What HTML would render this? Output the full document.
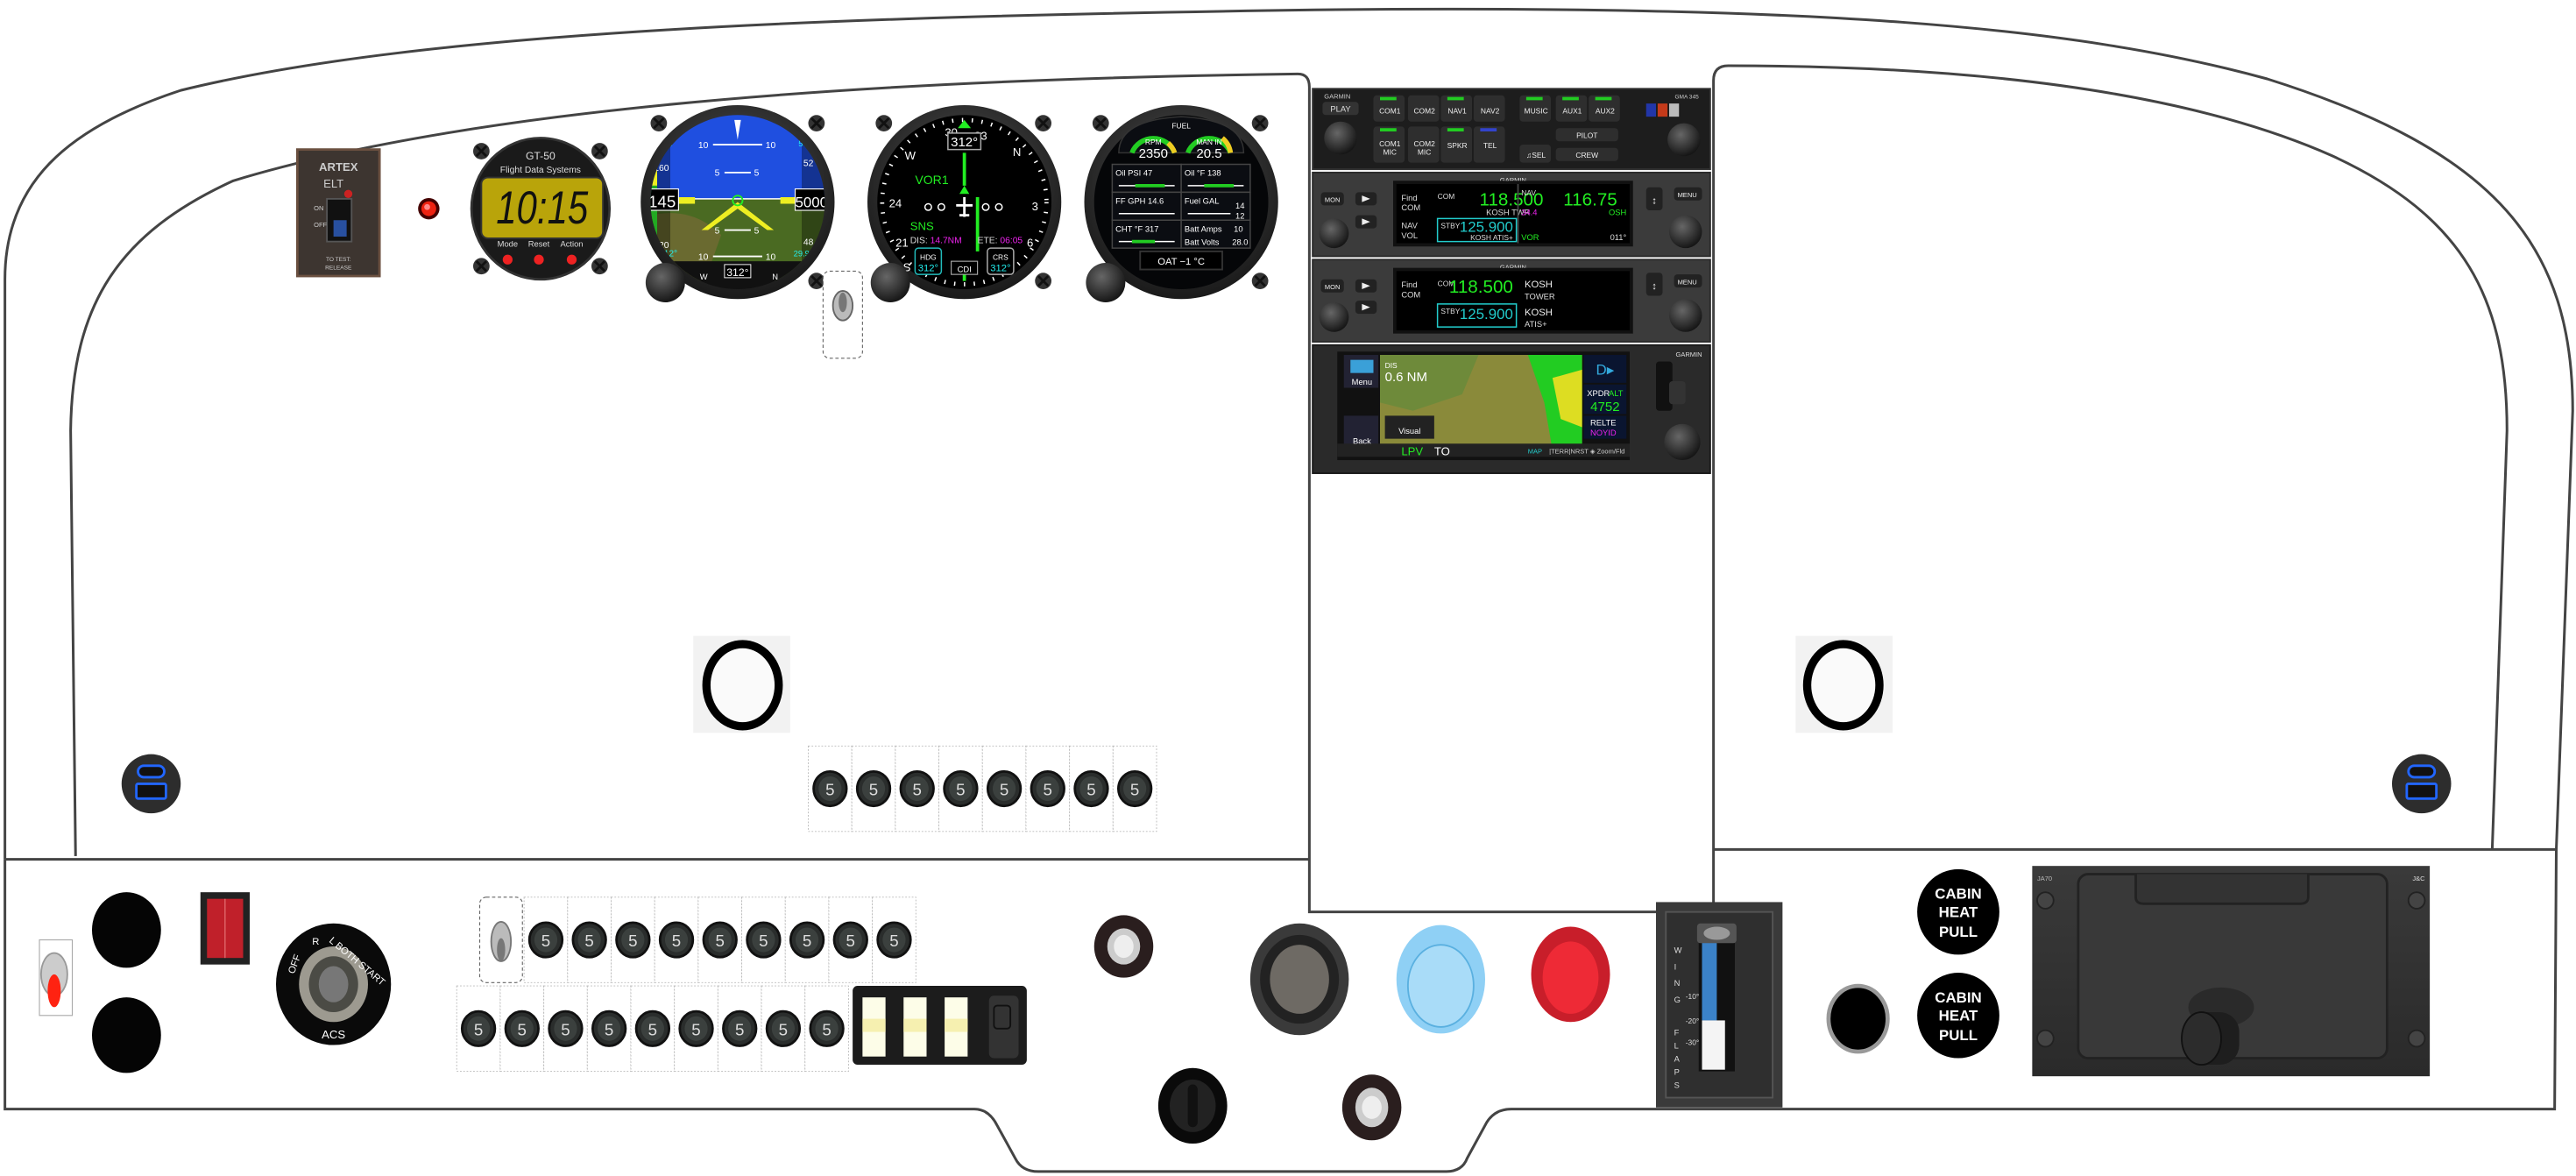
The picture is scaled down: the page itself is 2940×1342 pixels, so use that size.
<!DOCTYPE html>
<html><head><meta charset="utf-8"><style>
html,body{margin:0;padding:0;background:#fff;}
svg{display:block;}
text{font-family:"Liberation Sans",sans-serif;}
</style></head><body>
<svg width="2940" height="1342" viewBox="0 0 1568 715.7" preserveAspectRatio="none" xmlns="http://www.w3.org/2000/svg">
<defs>
<radialGradient id="bez" cx="50%" cy="40%" r="60%"><stop offset="0" stop-color="#555"/><stop offset="1" stop-color="#1a1a1a"/></radialGradient>
<radialGradient id="knob" cx="40%" cy="35%" r="70%"><stop offset="0" stop-color="#666"/><stop offset="1" stop-color="#111"/></radialGradient>
<linearGradient id="panelg" x1="0" y1="0" x2="0" y2="1"><stop offset="0" stop-color="#3a3a3a"/><stop offset="1" stop-color="#2a2a2a"/></linearGradient>
<g id="screw"><circle r="5" fill="#333"/><path d="M-3,-3 L3,3 M3,-3 L-3,3" stroke="#111" stroke-width="1.5"/></g>
<g id="cb"><rect x="0" y="0" width="26.5" height="52" fill="#fff" stroke="#bbb" stroke-width="0.5" stroke-dasharray="1,1"/><ellipse cx="13.25" cy="26" rx="10" ry="10.5" fill="#2a2d2c" stroke="#111" stroke-width="1.5"/><ellipse cx="13.25" cy="26" rx="7" ry="7.5" fill="#3b403e"/><text x="13.25" y="30" font-size="10" fill="#ddd" text-anchor="middle">5</text></g>
</defs>

<!-- outlines -->
<g fill="none" stroke="#444" stroke-width="1.6">
<path d="M3,523 L3,170 C3,112 40,78 110,55 C260,18 520,10 800,6 C1100,3 1260,15 1380,48 C1520,92 1566,150 1566,250 L1556,517"/>
<path d="M46,521 L43,262 C44,185 72,142 142,110 C300,62 560,48 790,45 Q797,45 797,53 L797,555 L1043,555 L1043,49 Q1043,40 1052,40 C1200,40 1330,55 1420,95 C1500,132 1526,182 1526,262 L1517,517"/>
<path d="M3,523 L797,523 M1043,517 L1556,517"/>
<path d="M3,523 L3,675 L593,675 Q602,675 607,685 L618,705 Q622,713 632,713 L880,713 Q890,713 893,705 L905,683 Q910,675 920,675 L1555,675 L1556,517"/>
</g>

<!-- ELT -->
<rect x="181" y="91" width="50" height="77" fill="#3d3530"/>
<rect x="181" y="91" width="50" height="77" fill="none" stroke="#6b5040" stroke-width="1.5"/>
<text x="206" y="104" font-size="7" fill="#ccc" text-anchor="middle" font-weight="bold">ARTEX</text>
<text x="203" y="114" font-size="7" fill="#ccc" text-anchor="middle">ELT</text>
<circle cx="212" cy="118" r="2.5" fill="#c22"/>
<rect x="199" y="121" width="15" height="26" fill="#111" stroke="#555"/>
<rect x="203" y="134" width="8" height="10" fill="#2850a0"/>
<text x="191" y="128" font-size="4" fill="#ccc">ON</text>
<text x="191" y="138" font-size="4" fill="#ccc">OFF</text>
<text x="206" y="159" font-size="3.5" fill="#ccc" text-anchor="middle">TO TEST:</text>
<text x="206" y="164" font-size="3.5" fill="#ccc" text-anchor="middle">RELEASE</text>
<!-- LED -->
<circle cx="261" cy="127" r="6.5" fill="#400"/><circle cx="261" cy="127" r="4.5" fill="#e21"/><circle cx="260" cy="126" r="1.8" fill="#f88"/>

<!-- GT-50 -->
<use href="#screw" x="293" y="92"/><use href="#screw" x="365" y="92"/><use href="#screw" x="293" y="162"/><use href="#screw" x="365" y="162"/>
<ellipse cx="329" cy="127" rx="42" ry="43" fill="#1a1a1a" stroke="#333" stroke-width="1.5"/>
<text x="329" y="97" font-size="6.5" fill="#ddd" text-anchor="middle">GT-50</text>
<text x="329" y="105" font-size="5.5" fill="#ddd" text-anchor="middle">Flight Data Systems</text>
<rect x="293" y="108" width="74" height="37" rx="4" fill="#b9a40a" stroke="#333"/>
<text x="330" y="136" font-size="28" fill="#111" text-anchor="middle" font-style="italic" transform="translate(330 0) scale(0.8 1) translate(-330 0)">10:15</text>
<text x="309" y="150" font-size="5" fill="#ddd" text-anchor="middle">Mode</text>
<text x="328" y="150" font-size="5" fill="#ddd" text-anchor="middle">Reset</text>
<text x="348" y="150" font-size="5" fill="#ddd" text-anchor="middle">Action</text>
<circle cx="309" cy="158" r="3" fill="#e22"/><circle cx="328" cy="158" r="3" fill="#e22"/><circle cx="348" cy="158" r="3" fill="#e22"/>

<!-- ADI -->
<g transform="translate(449,123)">
<use href="#screw" x="-48" y="-48"/><use href="#screw" x="48" y="-48"/><use href="#screw" x="48" y="48"/>
<circle r="59" fill="url(#bez)"/>
<clipPath id="adiclip"><circle r="53"/></clipPath>
<g clip-path="url(#adiclip)">
<rect x="-60" y="-60" width="120" height="60" fill="#1f4fe0"/>
<rect x="-60" y="-2" width="120" height="50" fill="#4a6a22"/>
<path d="M-60,10 Q-30,0 -10,20 L-20,48 L-60,48Z" fill="#6a6a30"/>
<rect x="-60" y="36" width="120" height="20" fill="#111"/>
<line x1="-50" y1="-2" x2="50" y2="-2" stroke="#fff" stroke-width="0.8"/>
<g stroke="#fff" stroke-width="1"><line x1="-15" y1="-35" x2="15" y2="-35"/><line x1="-8" y1="-18" x2="8" y2="-18"/><line x1="-8" y1="17" x2="8" y2="17"/><line x1="-15" y1="33" x2="15" y2="33"/></g>
<g font-size="5.5" fill="#fff"><text x="-24" y="-33">10</text><text x="17" y="-33">10</text><text x="-14" y="-16">5</text><text x="10" y="-16">5</text><text x="-14" y="19">5</text><text x="10" y="19">5</text><text x="-24" y="35">10</text><text x="17" y="35">10</text></g>
<path d="M-2,-50 L2,-50 L0,-38Z" fill="#fff"/>
<path d="M-22,17 L0,0 L22,17 L18,17 L0,4 L-18,17Z" fill="#ee2"/>
<rect x="-38" y="-3" width="12" height="4" fill="#ee2"/><rect x="26" y="-3" width="12" height="4" fill="#ee2"/>
<circle cx="0" cy="-1" r="3" fill="none" stroke="#2e2" stroke-width="1"/>
<rect x="-53" y="-40" width="12" height="80" fill="#000" opacity="0.35"/>
<rect x="-53" y="-35" width="4" height="25" fill="#ee2"/><rect x="-53" y="-10" width="4" height="35" fill="#2a2"/>
<rect x="39" y="-40" width="14" height="80" fill="#000" opacity="0.35"/>
<rect x="-56" y="-8" width="20" height="13" fill="#000" stroke="#fff" stroke-width="0.6"/>
<text x="-46" y="3" font-size="10" fill="#fff" text-anchor="middle">145</text>
<rect x="35" y="-8" width="20" height="13" fill="#000" stroke="#fff" stroke-width="0.6"/>
<text x="45" y="3" font-size="9" fill="#fff" text-anchor="middle">5000</text>
<g font-size="5.5" fill="#fff"><text x="-51" y="-19">160</text><text x="-51" y="28">120</text><text x="40" y="-22">52</text><text x="40" y="26">48</text></g>
<text x="-48" y="-34" font-size="5" fill="#2ee">145</text><text x="37" y="-34" font-size="5" fill="#2ee">5000</text>
<text x="-48" y="33" font-size="5.5" fill="#2ee">312°</text><text x="34" y="33" font-size="5" fill="#2ee">29.92</text>
<rect x="-8" y="38" width="16" height="8" fill="#000" stroke="#fff" stroke-width="0.5"/>
<text x="0" y="45" font-size="6.5" fill="#fff" text-anchor="middle">312°</text>
<text x="-23" y="47" font-size="5" fill="#fff">W</text><text x="21" y="47" font-size="5" fill="#fff">N</text>
</g>
</g>
<circle cx="405" cy="172" r="12" fill="url(#knob)"/>

<!-- HSI -->
<g transform="translate(587,123)">
<use href="#screw" x="-49" y="-48"/><use href="#screw" x="48" y="-48"/><use href="#screw" x="48" y="48"/>
<circle r="59" fill="url(#bez)"/>
<circle r="53" fill="#000"/>
<circle r="50" fill="none" stroke="#fff" stroke-width="2.5" stroke-dasharray="0.8,5.2"/>
<g font-size="7" fill="#fff" text-anchor="middle"><text x="-8" y="-40">30</text><text x="10" y="-38">33</text><text x="32" y="-28">N</text><text x="-33" y="-26">W</text><text x="-42" y="3">24</text><text x="43" y="5">3</text><text x="-38" y="27">21</text><text x="40" y="27">6</text><text x="-35" y="42">S</text></g>
<rect x="-10" y="-42" width="20" height="10" fill="#000" stroke="#aaa" stroke-width="0.8"/>
<text x="0" y="-34" font-size="8" fill="#fff" text-anchor="middle">312°</text>
<line x1="0" y1="-30" x2="0" y2="-10" stroke="#2e2" stroke-width="2"/>
<path d="M-4,-45 L0,-50 L4,-45Z" fill="#2e2"/><path d="M-3,-5 L0,-10 L3,-5Z" fill="#2e2"/>
<line x1="8" y1="-3" x2="8" y2="30" stroke="#2e2" stroke-width="2"/>
<line x1="0" y1="36" x2="0" y2="48" stroke="#2e2" stroke-width="2"/>
<text x="-30" y="-11" font-size="7.5" fill="#2e2">VOR1</text>
<g fill="none" stroke="#fff" stroke-width="0.8"><circle cx="-22" cy="3" r="2"/><circle cx="-14" cy="3" r="2"/><circle cx="13" cy="3" r="2"/><circle cx="21" cy="3" r="2"/></g>
<path d="M0,-3 L0,9 M-5,2 L5,2 M-3,8 L3,8" stroke="#fff" stroke-width="1.5"/>
<text x="-33" y="17" font-size="7" fill="#2e2">SNS</text>
<text x="-33" y="25" font-size="5.5" fill="#ddd">DIS: <tspan fill="#e2e">14.7NM</tspan></text>
<text x="8" y="25" font-size="5.5" fill="#ddd">ETE: <tspan fill="#e2e">06:05</tspan></text>
<rect x="-30" y="28" width="16" height="16" rx="2" fill="#000" stroke="#2bb" stroke-width="0.8"/>
<text x="-22" y="35" font-size="4.5" fill="#fff" text-anchor="middle">HDG</text><text x="-22" y="42" font-size="6" fill="#2ee" text-anchor="middle">312°</text>
<rect x="-8" y="36" width="16" height="8" fill="#000" stroke="#aaa" stroke-width="0.6"/><text x="0" y="42.5" font-size="5" fill="#fff" text-anchor="middle">CDI</text>
<rect x="14" y="28" width="16" height="16" rx="2" fill="#000" stroke="#aaa" stroke-width="0.8"/>
<text x="22" y="35" font-size="4.5" fill="#fff" text-anchor="middle">CRS</text><text x="22" y="42" font-size="6" fill="#2ee" text-anchor="middle">312°</text>
</g>
<circle cx="542" cy="172" r="12" fill="url(#knob)"/>

<!-- EIS -->
<g transform="translate(719,123)">
<use href="#screw" x="-49" y="-48"/><use href="#screw" x="48" y="-48"/><use href="#screw" x="48" y="48"/>
<circle r="59" fill="url(#bez)"/>
<circle r="53" fill="#050608"/>
<path d="M-38,-30 Q-38,-50 0,-52 Q38,-50 38,-30 Z" fill="#0b0d12" stroke="#333" stroke-width="0.8"/>
<path d="M-30,-30 A14,14 0 0 1 -4,-30" fill="none" stroke="#2c2" stroke-width="3"/>
<path d="M4,-30 A14,14 0 0 1 30,-30" fill="none" stroke="#2c2" stroke-width="3"/>
<path d="M-8,-36 A14,14 0 0 1 -4,-30" fill="none" stroke="#ec2" stroke-width="3"/>
<path d="M25,-39 A14,14 0 0 1 30,-30" fill="none" stroke="#ec2" stroke-width="3"/>
<text x="-17" y="-35" font-size="4.5" fill="#fff" text-anchor="middle">RPM</text><text x="-17" y="-27" font-size="8" fill="#fff" text-anchor="middle">2350</text>
<text x="17" y="-35" font-size="4.5" fill="#fff" text-anchor="middle">MAN IN</text><text x="17" y="-27" font-size="8" fill="#fff" text-anchor="middle">20.5</text>
<text x="0" y="-45" font-size="4.5" fill="#fff" text-anchor="middle">FUEL</text>
<g fill="#0b0d12" stroke="#444" stroke-width="0.8"><rect x="-42" y="-23" width="42" height="17"/><rect x="0" y="-23" width="42" height="17"/><rect x="-42" y="-6" width="42" height="17"/><rect x="0" y="-6" width="42" height="17"/><rect x="-42" y="11" width="42" height="17"/><rect x="0" y="11" width="42" height="17"/></g>
<g font-size="5" fill="#fff"><text x="-40" y="-16">Oil PSI 47</text><text x="2" y="-16">Oil °F 138</text><text x="-40" y="1">FF GPH 14.6</text><text x="2" y="1">Fuel GAL</text><text x="-40" y="18">CHT °F 317</text><text x="2" y="18">Batt Amps</text><text x="32" y="18">10</text><text x="2" y="26">Batt Volts</text><text x="31" y="26">28.0</text><text x="33" y="4">14</text><text x="33" y="10">12</text></g>
<g stroke-width="2"><line x1="-38" y1="-10" x2="-4" y2="-10" stroke="#fff" stroke-width="0.8"/><line x1="-28" y1="-10" x2="-10" y2="-10" stroke="#2c2"/><line x1="4" y1="-10" x2="38" y2="-10" stroke="#fff" stroke-width="0.8"/><line x1="14" y1="-10" x2="32" y2="-10" stroke="#2c2"/><line x1="-38" y1="7" x2="-4" y2="7" stroke="#fff" stroke-width="0.8"/><line x1="4" y1="7" x2="30" y2="7" stroke="#fff" stroke-width="0.8"/><line x1="-38" y1="24" x2="-4" y2="24" stroke="#fff" stroke-width="0.8"/><line x1="-30" y1="24" x2="-16" y2="24" stroke="#2c2"/></g>
<rect x="-25" y="30" width="50" height="11" fill="#000" stroke="#333"/>
<text x="0" y="38" font-size="6" fill="#fff" text-anchor="middle">OAT −1 °C</text>
</g>
<circle cx="673" cy="172" r="12" fill="url(#knob)"/>

<!-- small toggle -->
<rect x="501" y="165" width="24" height="53" rx="4" fill="#fff" stroke="#666" stroke-width="0.6" stroke-dasharray="2,1.5"/>
<ellipse cx="513" cy="186" rx="6" ry="9" fill="#bbb" stroke="#666"/><ellipse cx="513" cy="184" rx="2.5" ry="6" fill="#777"/>

<!-- Garmin stack -->
<g>
<rect x="799" y="54" width="242" height="49" fill="#1d1d1d" stroke="#333"/>
<text x="806" y="60" font-size="4" fill="#ccc">GARMIN</text>
<text x="1034" y="60" font-size="3.5" fill="#ccc" text-anchor="end">GMA 345</text>
<rect x="805" y="62" width="22" height="8" rx="2" fill="#333"/><text x="816" y="68" font-size="5" fill="#ddd" text-anchor="middle">PLAY</text>
<circle cx="816" cy="84" r="10" fill="url(#knob)"/>
<circle cx="1025" cy="85" r="10" fill="url(#knob)"/>
<g font-size="4.5" fill="#eee" text-anchor="middle">
<rect x="836" y="58" width="19" height="16" rx="2" fill="#2e2e2e"/><rect x="840" y="59" width="10" height="2" fill="#2c2"/><text x="846" y="69">COM1</text>
<rect x="857" y="58" width="19" height="16" rx="2" fill="#2e2e2e"/><text x="867" y="69">COM2</text>
<rect x="877" y="58" width="19" height="16" rx="2" fill="#2e2e2e"/><rect x="881" y="59" width="10" height="2" fill="#2c2"/><text x="887" y="69">NAV1</text>
<rect x="897" y="58" width="19" height="16" rx="2" fill="#2e2e2e"/><text x="907" y="69">NAV2</text>
<rect x="925" y="58" width="19" height="16" rx="2" fill="#2e2e2e"/><rect x="929" y="59" width="10" height="2" fill="#2c2"/><text x="935" y="69">MUSIC</text>
<rect x="947" y="58" width="19" height="16" rx="2" fill="#2e2e2e"/><rect x="951" y="59" width="10" height="2" fill="#2c2"/><text x="957" y="69">AUX1</text>
<rect x="967" y="58" width="19" height="16" rx="2" fill="#2e2e2e"/><rect x="971" y="59" width="10" height="2" fill="#2c2"/><text x="977" y="69">AUX2</text>
<rect x="836" y="77" width="19" height="22" rx="2" fill="#2e2e2e"/><rect x="840" y="78" width="10" height="2" fill="#2c2"/><text x="846" y="89">COM1</text><text x="846" y="94">MIC</text>
<rect x="857" y="77" width="19" height="22" rx="2" fill="#2e2e2e"/><text x="867" y="89">COM2</text><text x="867" y="94">MIC</text>
<rect x="877" y="77" width="19" height="22" rx="2" fill="#2e2e2e"/><rect x="881" y="78" width="10" height="2" fill="#2c2"/><text x="887" y="90">SPKR</text>
<rect x="897" y="77" width="19" height="22" rx="2" fill="#2e2e2e"/><rect x="901" y="78" width="10" height="2" fill="#34c"/><text x="907" y="90">TEL</text>
<rect x="925" y="88" width="19" height="11" rx="2" fill="#2e2e2e"/><text x="935" y="96">♫SEL</text>
<rect x="947" y="78" width="38" height="8" rx="2" fill="#2e2e2e"/><text x="966" y="84">PILOT</text>
<rect x="947" y="90" width="38" height="8" rx="2" fill="#2e2e2e"/><text x="966" y="96">CREW</text>
</g>
<rect x="1002" y="63" width="6" height="8" fill="#2236a8"/><rect x="1009" y="63" width="6" height="8" fill="#c43a1a"/><rect x="1016" y="63" width="6" height="8" fill="#bbb"/>

<rect x="799" y="105" width="242" height="51" fill="#3b3b3b" stroke="#2a2a2a"/>
<text x="921" y="111" font-size="4" fill="#ddd" text-anchor="middle">GARMIN</text>
<rect x="804" y="117" width="14" height="8" rx="2" fill="#222"/><text x="811" y="123" font-size="4" fill="#eee" text-anchor="middle">MON</text>
<rect x="825" y="117" width="13" height="8" rx="2" fill="#222"/><path d="M829,119 L834,121 L829,123Z" fill="#eee"/>
<rect x="825" y="131" width="13" height="8" rx="2" fill="#222"/><path d="M829,133 L834,135 L829,137Z" fill="#eee"/>
<circle cx="812" cy="142" r="9" fill="url(#knob)"/>
<rect x="848" y="110" width="146" height="40" fill="#111"/>
<rect x="850" y="112" width="142" height="36" fill="#000"/>
<text x="853" y="122" font-size="5" fill="#ddd">Find</text><text x="853" y="128" font-size="5" fill="#ddd">COM</text>
<text x="853" y="139" font-size="5" fill="#ddd">NAV</text><text x="853" y="145" font-size="5" fill="#ddd">VOL</text>
<text x="875" y="121" font-size="4.5" fill="#ddd">COM</text>
<text x="920" y="125" font-size="11" fill="#2e2" text-anchor="middle">118.500</text>
<text x="918" y="131" font-size="5" fill="#ddd" text-anchor="middle">KOSH TWR</text>
<rect x="875" y="133" width="48" height="14" fill="none" stroke="#2cc" stroke-width="0.8"/>
<text x="877" y="139" font-size="4.5" fill="#ddd">STBY</text>
<text x="921" y="141" font-size="9" fill="#2cc" text-anchor="end">125.900</text>
<text x="921" y="146" font-size="4.5" fill="#ddd" text-anchor="end">KOSH ATIS+</text>
<line x1="924" y1="112" x2="924" y2="148" stroke="#444"/>
<text x="926" y="119" font-size="4.5" fill="#ddd">NAV</text>
<text x="968" y="125" font-size="11" fill="#2e2" text-anchor="middle">116.75</text>
<text x="926" y="131" font-size="5" fill="#e2e">34.4</text><text x="990" y="131" font-size="5" fill="#2e2" text-anchor="end">OSH</text>
<text x="926" y="146" font-size="5" fill="#2e2">VOR</text><text x="990" y="146" font-size="5" fill="#ddd" text-anchor="end">011°</text>
<rect x="1002" y="114" width="10" height="14" rx="2" fill="#222"/><text x="1007" y="124" font-size="6" fill="#eee" text-anchor="middle">↕</text>
<rect x="1019" y="114" width="17" height="8" rx="2" fill="#222"/><text x="1027" y="120" font-size="4" fill="#eee" text-anchor="middle">MENU</text>
<circle cx="1026" cy="141" r="10" fill="url(#knob)"/>

<rect x="799" y="158" width="242" height="50" fill="#3b3b3b" stroke="#2a2a2a"/>
<text x="921" y="164" font-size="4" fill="#ddd" text-anchor="middle">GARMIN</text>
<rect x="804" y="170" width="14" height="8" rx="2" fill="#222"/><text x="811" y="176" font-size="4" fill="#eee" text-anchor="middle">MON</text>
<rect x="825" y="170" width="13" height="8" rx="2" fill="#222"/><path d="M829,172 L834,174 L829,176Z" fill="#eee"/>
<rect x="825" y="183" width="13" height="8" rx="2" fill="#222"/><path d="M829,185 L834,187 L829,189Z" fill="#eee"/>
<circle cx="812" cy="193" r="9" fill="url(#knob)"/>
<rect x="848" y="163" width="146" height="40" fill="#111"/>
<rect x="850" y="165" width="142" height="36" fill="#000"/>
<text x="853" y="175" font-size="5" fill="#ddd">Find</text><text x="853" y="181" font-size="5" fill="#ddd">COM</text>
<text x="875" y="174" font-size="4.5" fill="#ddd">COM</text>
<text x="921" y="178" font-size="11" fill="#2e2" text-anchor="end">118.500</text>
<text x="928" y="175" font-size="6" fill="#eee">KOSH</text><text x="928" y="182" font-size="5" fill="#ddd">TOWER</text>
<rect x="875" y="185" width="48" height="14" fill="none" stroke="#2cc" stroke-width="0.8"/>
<text x="877" y="191" font-size="4.5" fill="#ddd">STBY</text>
<text x="921" y="194" font-size="9" fill="#2cc" text-anchor="end">125.900</text>
<text x="928" y="192" font-size="6" fill="#eee">KOSH</text><text x="928" y="199" font-size="5" fill="#ddd">ATIS+</text>
<rect x="1002" y="166" width="10" height="14" rx="2" fill="#222"/><text x="1007" y="176" font-size="6" fill="#eee" text-anchor="middle">↕</text>
<rect x="1019" y="167" width="17" height="8" rx="2" fill="#222"/><text x="1027" y="173" font-size="4" fill="#eee" text-anchor="middle">MENU</text>
<circle cx="1026" cy="192" r="10" fill="url(#knob)"/>

<rect x="799" y="210" width="242" height="78" fill="#2a2a2a" stroke="#1a1a1a"/>
<text x="1036" y="217" font-size="4" fill="#ddd" text-anchor="end">GARMIN</text>
<rect x="814" y="214" width="178" height="66" fill="#111"/>
<rect x="840" y="216" width="123" height="58" fill="#8a8a3a"/>
<path d="M840,216 L900,216 L890,240 L860,250 L840,245Z" fill="#6e8a3a"/>
<path d="M930,216 L963,216 L963,274 L945,274 L940,245Z" fill="#2c2"/>
<path d="M945,230 L963,225 L963,260 L950,255Z" fill="#dd2"/>
<rect x="818" y="216" width="21" height="20" fill="#223"/><rect x="822" y="219" width="14" height="8" fill="#3aa0d8"/><text x="829" y="234" font-size="5" fill="#fff" text-anchor="middle">Menu</text>
<rect x="818" y="253" width="21" height="20" fill="#223"/><text x="829" y="270" font-size="5" fill="#fff" text-anchor="middle">Back</text>
<text x="843" y="224" font-size="4.5" fill="#fff">DIS</text><text x="843" y="232" font-size="8" fill="#fff">0.6 NM</text>
<rect x="843" y="253" width="30" height="14" fill="#222"/><text x="858" y="264" font-size="5" fill="#fff" text-anchor="middle">Visual</text>
<rect x="964" y="216" width="26" height="17" fill="#0a1530"/><text x="977" y="228" font-size="9" fill="#3ad" text-anchor="middle">D▸</text>
<rect x="964" y="234" width="26" height="18" fill="#0a1530"/><text x="966" y="241" font-size="5" fill="#fff">XPDR</text><text x="988" y="241" font-size="5" fill="#2e2" text-anchor="end">ALT</text><text x="977" y="250" font-size="8" fill="#2e2" text-anchor="middle">4752</text>
<rect x="964" y="253" width="26" height="14" fill="#0a1530"/><text x="968" y="259" font-size="5" fill="#fff">RELTE</text><text x="968" y="265" font-size="5" fill="#e2e">NOYID</text>
<rect x="814" y="270" width="178" height="8" fill="#222"/>
<text x="853" y="277" font-size="7" fill="#2e2">LPV</text><text x="873" y="277" font-size="7" fill="#fff">TO</text>
<text x="930" y="276" font-size="4" fill="#2cc">MAP</text><text x="943" y="276" font-size="4" fill="#ccc">|TERR|NRST ◈ Zoom/Fld</text>
<rect x="1008" y="220" width="10" height="30" rx="2" fill="#111"/><rect x="1016" y="232" width="10" height="14" rx="2" fill="#333"/>
<circle cx="1024" cy="269" r="11" fill="url(#knob)"/>
</g>

<!-- white circles -->
<rect x="422" y="387" width="59" height="59" fill="#f2f2f2"/>
<ellipse cx="452" cy="417" rx="22" ry="25" fill="#fafafa" stroke="#000" stroke-width="5"/>
<rect x="1093" y="387" width="59" height="59" fill="#f2f2f2"/>
<ellipse cx="1122" cy="417" rx="22" ry="25" fill="#fafafa" stroke="#000" stroke-width="5"/>
<!-- USB -->
<g transform="translate(92,477)"><circle r="18" fill="#2d2d2d"/><rect x="-8" y="-11" width="16" height="7" rx="3.5" fill="#111" stroke="#26f" stroke-width="1.5"/><rect x="-9" y="0" width="18" height="9" rx="1" fill="#111" stroke="#26f" stroke-width="1.5"/></g>
<g transform="translate(1474,477)"><circle r="18" fill="#2d2d2d"/><rect x="-8" y="-11" width="16" height="7" rx="3.5" fill="#111" stroke="#26f" stroke-width="1.5"/><rect x="-9" y="0" width="18" height="9" rx="1" fill="#111" stroke="#26f" stroke-width="1.5"/></g>

<!-- breakers top row -->
<use href="#cb" x="492" y="454"/><use href="#cb" x="518.5" y="454"/><use href="#cb" x="545" y="454"/><use href="#cb" x="571.5" y="454"/><use href="#cb" x="598" y="454"/><use href="#cb" x="624.5" y="454"/><use href="#cb" x="651" y="454"/><use href="#cb" x="677.5" y="454"/>

<!-- lower left -->
<rect x="24" y="572" width="20" height="46" fill="#fff" stroke="#aaa" stroke-width="0.6"/>
<ellipse cx="33" cy="593" rx="8" ry="13" fill="#ccc" stroke="#999"/>
<ellipse cx="33" cy="603" rx="4" ry="10" fill="#f21"/>
<ellipse cx="77" cy="566" rx="21" ry="23" fill="#050505"/>
<ellipse cx="77" cy="630" rx="21" ry="23" fill="#050505"/>
<rect x="122" y="543" width="30" height="44" fill="#222"/>
<rect x="126" y="547" width="22" height="36" fill="#c0202a"/>
<line x1="137" y1="547" x2="137" y2="583" stroke="#e88" stroke-width="0.5"/>
<!-- ACS key -->
<g transform="translate(203,599)">
<ellipse rx="35" ry="37" fill="#0a0a0a"/>
<ellipse rx="21" ry="23" fill="#9d9a90"/><ellipse rx="15" ry="17" fill="#4b4b45"/><ellipse rx="9" ry="11" fill="#777"/>
<text x="-24" y="-6" font-size="6" fill="#fff" transform="rotate(-70 -24 -6)">OFF</text>
<text x="-13" y="-24" font-size="6" fill="#fff">R</text>
<text x="-3" y="-26" font-size="6" fill="#fff" transform="rotate(40 -3 -26)">L BOTH START</text>
<text x="0" y="33" font-size="7" fill="#fff" text-anchor="middle">ACS</text>
</g>
<!-- toggle lower -->
<rect x="292" y="546" width="26" height="52" rx="4" fill="#fff" stroke="#666" stroke-width="0.6" stroke-dasharray="2,1.5"/>
<ellipse cx="305" cy="573" rx="6" ry="12" fill="#bbb" stroke="#777"/><ellipse cx="305" cy="578" rx="2.5" ry="7" fill="#777"/>
<!-- breakers row1 -->
<use href="#cb" x="319" y="546"/><use href="#cb" x="345.5" y="546"/><use href="#cb" x="372" y="546"/><use href="#cb" x="398.5" y="546"/><use href="#cb" x="425" y="546"/><use href="#cb" x="451.5" y="546"/><use href="#cb" x="478" y="546"/><use href="#cb" x="504.5" y="546"/><use href="#cb" x="531" y="546"/>
<!-- row2 -->
<use href="#cb" x="278" y="600"/><use href="#cb" x="304.5" y="600"/><use href="#cb" x="331" y="600"/><use href="#cb" x="357.5" y="600"/><use href="#cb" x="384" y="600"/><use href="#cb" x="410.5" y="600"/><use href="#cb" x="437" y="600"/><use href="#cb" x="463.5" y="600"/><use href="#cb" x="490" y="600"/>
<!-- rockers -->
<rect x="519" y="600" width="106" height="48" rx="3" fill="#1c1c1c"/>
<rect x="525" y="607" width="14" height="36" fill="#fdfde8"/><rect x="525" y="620" width="14" height="8" fill="#f6f0b0"/>
<rect x="550" y="607" width="14" height="36" fill="#fdfde8"/><rect x="550" y="620" width="14" height="8" fill="#f6f0b0"/>
<rect x="575" y="607" width="14" height="36" fill="#fdfde8"/><rect x="575" y="620" width="14" height="8" fill="#f6f0b0"/>
<rect x="602" y="606" width="18" height="38" rx="3" fill="#333"/><rect x="605" y="612" width="10" height="14" rx="2" fill="none" stroke="#111"/>

<!-- knobs center -->
<ellipse cx="684" cy="576" rx="18" ry="19" fill="#2a1e1e"/><ellipse cx="684" cy="576" rx="10" ry="11" fill="#ccc"/><ellipse cx="684" cy="576" rx="6" ry="7" fill="#eee"/>
<ellipse cx="791" cy="596" rx="30" ry="34" fill="#3a3a3a"/><ellipse cx="791" cy="596" rx="24" ry="27" fill="#222"/><ellipse cx="791" cy="596" rx="18" ry="21" fill="#6e6a64"/>
<ellipse cx="877" cy="596" rx="27" ry="33" fill="#8fd0f5"/><ellipse cx="877" cy="600" rx="20" ry="25" fill="#a9dcf8" stroke="#5ab0e0"/>
<ellipse cx="956" cy="593" rx="24" ry="29" fill="#c81e2a"/><ellipse cx="956" cy="595" rx="17" ry="22" fill="#ee2a36"/>
<ellipse cx="726" cy="673" rx="21" ry="23" fill="#0a0a0a"/><ellipse cx="726" cy="673" rx="14" ry="16" fill="#222"/><rect x="723" y="660" width="6" height="26" rx="3" fill="#111"/>
<ellipse cx="835" cy="674" rx="18" ry="20" fill="#2a1e1e"/><ellipse cx="835" cy="674" rx="10" ry="12" fill="#ccc"/><ellipse cx="835" cy="674" rx="6" ry="7" fill="#eee"/>

<!-- flaps -->
<rect x="1008" y="549" width="77" height="125" fill="#3a3a3a"/>
<rect x="1014" y="555" width="65" height="113" fill="#2f2f2f" stroke="#555"/>
<rect x="1034" y="567" width="22" height="85" fill="#111"/>
<rect x="1036" y="573" width="9" height="48" fill="#3b82c8"/>
<rect x="1036" y="621" width="14" height="30" fill="#f4f4f4"/>
<rect x="1033" y="562" width="24" height="12" rx="2" fill="#555"/><ellipse cx="1045" cy="568" rx="8" ry="4" fill="#999"/>
<text x="1019" y="580" font-size="5" fill="#ddd">W</text><text x="1019" y="590" font-size="5" fill="#ddd">I</text><text x="1019" y="600" font-size="5" fill="#ddd">N</text><text x="1019" y="610" font-size="5" fill="#ddd">G</text>
<text x="1019" y="630" font-size="5" fill="#ddd">F</text><text x="1019" y="638" font-size="5" fill="#ddd">L</text><text x="1019" y="646" font-size="5" fill="#ddd">A</text><text x="1019" y="654" font-size="5" fill="#ddd">P</text><text x="1019" y="662" font-size="5" fill="#ddd">S</text>
<text x="1026" y="608" font-size="4.5" fill="#ddd">-10°</text><text x="1026" y="623" font-size="4.5" fill="#ddd">-20°</text><text x="1026" y="636" font-size="4.5" fill="#ddd">-30°</text>

<!-- right lower -->
<ellipse cx="1131" cy="620" rx="18" ry="20" fill="#000" stroke="#999" stroke-width="2.5"/>
<ellipse cx="1192" cy="555" rx="25" ry="26" fill="#000"/>
<text x="1192" y="547" font-size="9" fill="#fff" text-anchor="middle" font-weight="bold">CABIN</text><text x="1192" y="558" font-size="9" fill="#fff" text-anchor="middle" font-weight="bold">HEAT</text><text x="1192" y="570" font-size="9" fill="#fff" text-anchor="middle" font-weight="bold">PULL</text>
<ellipse cx="1192" cy="618" rx="25" ry="26" fill="#000"/>
<text x="1192" y="610" font-size="9" fill="#fff" text-anchor="middle" font-weight="bold">CABIN</text><text x="1192" y="621" font-size="9" fill="#fff" text-anchor="middle" font-weight="bold">HEAT</text><text x="1192" y="633" font-size="9" fill="#fff" text-anchor="middle" font-weight="bold">PULL</text>
<rect x="1237" y="527" width="242" height="128" fill="url(#panelg)"/>
<rect x="1265" y="532" width="188" height="112" rx="6" fill="#393939" stroke="#222" stroke-width="1.5"/>
<path d="M1300,532 L1300,546 Q1300,550 1305,550 L1400,550 Q1405,550 1405,546 L1405,532" fill="#333" stroke="#222" stroke-width="1.5"/>
<text x="1240" y="536" font-size="4" fill="#bbb">JA70</text><text x="1476" y="536" font-size="4" fill="#ddd" text-anchor="end">J&amp;C</text>
<circle cx="1245" cy="548" r="5" fill="#444" stroke="#222"/><circle cx="1471" cy="548" r="5" fill="#444" stroke="#222"/>
<circle cx="1245" cy="632" r="5" fill="#444" stroke="#222"/><circle cx="1471" cy="632" r="5" fill="#444" stroke="#222"/>
<ellipse cx="1352" cy="613" rx="20" ry="12" fill="#2a2a2a"/>
<rect x="1333" y="616" width="30" height="32" rx="12" fill="#1e1e1e"/>
<ellipse cx="1340" cy="632" rx="12" ry="16" fill="#2c2c2c" stroke="#111"/>
</svg>
</body></html>
